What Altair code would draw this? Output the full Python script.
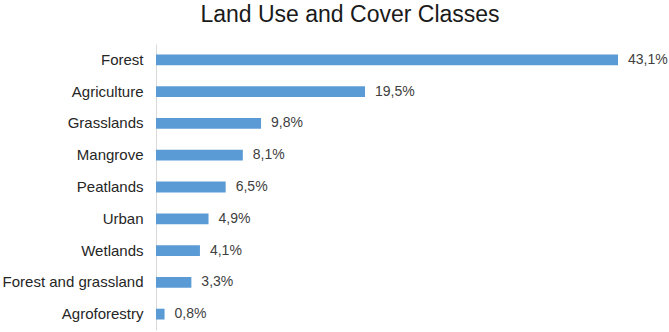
import altair as alt
import pandas as pd

categories = ["Forest", "Agriculture", "Grasslands", "Mangrove", "Peatlands",
              "Urban", "Wetlands", "Forest and grassland", "Agroforestry"]
values = [43.1, 19.5, 9.8, 8.1, 6.5, 4.9, 4.1, 3.3, 0.8]

df = pd.DataFrame({"cls": categories, "pct": values})

FONT = "Liberation Sans"

base = alt.Chart(df).encode(
    y=alt.Y("cls:N", sort=None, title=None,
            scale=alt.Scale(paddingInner=0.66, paddingOuter=0.33),
            axis=alt.Axis(ticks=False, domainColor="#d9d9d9", domainWidth=1,
                          labelFont=FONT, labelFontSize=15, labelColor="#262626",
                          labelPadding=13, labelLimit=300)),
    x=alt.X("pct:Q", title=None, scale=alt.Scale(domain=[0, 43.1], nice=False, zero=True),
            axis=None),
)

bars = base.mark_bar(color="#5B9BD5")
labels = base.transform_calculate(
    lbl="replace(format(datum.pct, '.1f'), '.', ',') + '%'"
).mark_text(align="left", baseline="middle", dx=10, font=FONT, fontSize=14,
            color="#404040").encode(text="lbl:N")

chart = (bars + labels).properties(
    width=462, height=286,
    title=alt.TitleParams("Land Use and Cover Classes", font=FONT, fontSize=23,
                          fontWeight="normal", color="#1a1a1a", anchor="middle",
                          dx=-37, offset=17),
    autosize=alt.AutoSizeParams(type="none"),
    padding={"left": 156, "top": 44, "right": 51, "bottom": 2},
).configure_view(stroke=None).configure_axis(grid=False)

chart.save("out.html", embed_options={"renderer": "svg", "actions": False})
